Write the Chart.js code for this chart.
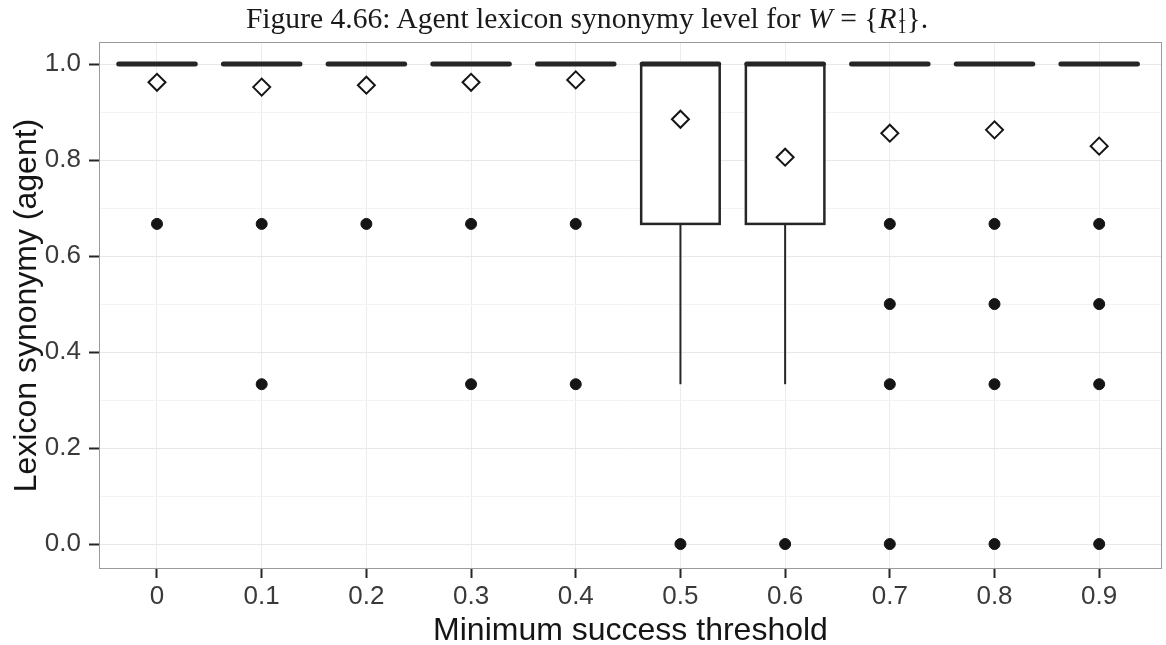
<!DOCTYPE html>
<html>
<head>
<meta charset="utf-8">
<script src="https://cdn.jsdelivr.net/npm/chart.js@4.4.1/dist/chart.umd.min.js"></script>
<style>
  html, body { margin: 0; padding: 0; background: #fff; overflow: hidden; }
  #wrap { position: relative; width: 1166px; height: 645px; }
  #title {
    position: absolute; top: 2px; left: 0; width: 1174px; text-align: center;
    font-family: "Liberation Serif", "DejaVu Serif", serif; font-size: 29.6px; color: #1a1a1a;
    white-space: nowrap; line-height: 32px;
  }
  .stack { display: inline-block; vertical-align: -5px; line-height: 12px; font-size: 18px; text-align: left; margin-left: 1px; }
  .stack span { display: block; }
</style>
</head>
<body>
<div id="wrap">
  <canvas id="chart" width="1166" height="645"></canvas>
  <div id="title">Figure 4.66: Agent lexicon synonymy level for <i>W</i> = {<i>R</i><span class="stack"><span>1</span><span>1</span></span>}.</div>
</div>
<script>
// minimum success thresholds (x categories)
const thresholds = ["0", "0.1", "0.2", "0.3", "0.4", "0.5", "0.6", "0.7", "0.8", "0.9"];

// box plot summary per threshold
const whiskerLow  = [1, 1, 1, 1, 1, 0.333, 0.333, 1, 1, 1];
const boxLow      = [1, 1, 1, 1, 1, 0.667, 0.667, 1, 1, 1];
const boxMedian   = [1, 1, 1, 1, 1, 1, 1, 1, 1, 1];
const boxHigh     = [1, 1, 1, 1, 1, 1, 1, 1, 1, 1];
const whiskerHigh = [1, 1, 1, 1, 1, 1, 1, 1, 1, 1];

// mean markers (diamonds)
const means = [0.962, 0.952, 0.956, 0.962, 0.967, 0.885, 0.806, 0.856, 0.863, 0.829];

// outliers (dots)
const outliers = [
    [0.667],
    [0.667, 0.333],
    [0.667],
    [0.667, 0.333],
    [0.667, 0.333],
    [0],
    [0],
    [0.667, 0.5, 0.333, 0],
    [0.667, 0.5, 0.333, 0],
    [0.667, 0.5, 0.333, 0]
];

const yTickValues = [0, 0.2, 0.4, 0.6, 0.8, 1.0];

const outlierPoints = [];
outliers.forEach((vals, i) => vals.forEach(v => outlierPoints.push({x: i, y: v})));
const meanPoints = means.map((m, i) => ({x: i, y: m}));

const ink = "#262626";

function isMajor(v) {
    return yTickValues.some(t => Math.abs(t - v) < 1e-6);
}

const boxPlugin = {
    id: "boxPlugin",
    beforeDatasetsDraw(chart) {
        const {ctx, chartArea, scales: {x, y}} = chart;
        const half = x.getPixelForValue(0.375) - x.getPixelForValue(0);
        ctx.save();
        // panel border
        ctx.strokeStyle = "#9a9a9a";
        ctx.lineWidth = 1;
        ctx.strokeRect(chartArea.left + 0.5, chartArea.top + 0.5,
            chartArea.right - chartArea.left - 1, chartArea.bottom - chartArea.top - 1);

        ctx.strokeStyle = ink;
        for (let i = 0; i < thresholds.length; i++) {
            const cx = x.getPixelForValue(i);
            const yLo = y.getPixelForValue(boxLow[i]);
            const yHi = y.getPixelForValue(boxHigh[i]);
            // whiskers
            ctx.lineWidth = 2;
            ctx.beginPath();
            ctx.moveTo(cx, yLo);
            ctx.lineTo(cx, y.getPixelForValue(whiskerLow[i]));
            ctx.moveTo(cx, yHi);
            ctx.lineTo(cx, y.getPixelForValue(whiskerHigh[i]));
            ctx.stroke();
            // box
            if (yLo - yHi > 1) {
                ctx.fillStyle = "#fff";
                ctx.fillRect(cx - half, yHi, half * 2, yLo - yHi);
                ctx.lineWidth = 2.5;
                ctx.strokeRect(cx - half, yHi, half * 2, yLo - yHi);
            }
            // median
            const ym = y.getPixelForValue(boxMedian[i]);
            ctx.lineWidth = 5;
            ctx.lineCap = "round";
            ctx.beginPath();
            ctx.moveTo(cx - half + 1, ym);
            ctx.lineTo(cx + half - 1, ym);
            ctx.stroke();
            ctx.lineCap = "butt";
        }
        ctx.restore();
    }
};

const ctx = document.getElementById("chart").getContext("2d");
new Chart(ctx, {
    type: "scatter",
    data: {
        datasets: [
            {
                label: "outliers",
                data: outlierPoints,
                pointStyle: "circle",
                pointRadius: 5.5,
                backgroundColor: "#151515",
                borderColor: "#151515",
                borderWidth: 1
            },
            {
                label: "mean",
                data: meanPoints,
                pointStyle: "rectRot",
                pointRadius: 8.5,
                backgroundColor: "#fff",
                borderColor: "#151515",
                borderWidth: 2
            }
        ]
    },
    options: {
        responsive: false,
        animation: false,
        events: [],
        layout: {autoPadding: false, padding: {top: 42, right: 4, left: 0, bottom: 0}},
        plugins: {legend: {display: false}, tooltip: {enabled: false}},
        scales: {
            x: {
                type: "linear",
                min: -0.554,
                max: 9.6,
                afterFit(scale) {
                    scale.height = 76;
                    scale.paddingLeft = 0;
                    scale.paddingRight = 0;
                },
                border: {display: false},
                grid: {
                    color: "#ececec",
                    lineWidth: 1,
                    tickLength: 9,
                    tickWidth: 2,
                    tickColor: ink
                },
                ticks: {
                    stepSize: 1,
                    includeBounds: false,
                    autoSkip: false,
                    maxRotation: 0,
                    padding: 3,
                    color: "#3a3a3a",
                    font: {family: "Liberation Sans", size: 26},
                    callback: (v) => thresholds[Math.round(v)] ?? ""
                },
                title: {
                    display: true,
                    text: "Minimum success threshold",
                    color: "#151515",
                    font: {family: "Liberation Sans", size: 32, lineHeight: 1},
                    padding: {top: 0, bottom: -2}
                }
            },
            y: {
                type: "linear",
                min: -0.052,
                max: 1.046,
                afterFit(scale) {
                    scale.width = 99;
                    scale.paddingTop = 0;
                    scale.paddingBottom = 0;
                },
                border: {display: false},
                grid: {
                    color: (c) => isMajor(c.tick.value) ? "#e8e8e8" : "#f3f3f3",
                    tickColor: (c) => isMajor(c.tick.value) ? ink : "rgba(0,0,0,0)",
                    lineWidth: 1,
                    tickLength: 10,
                    tickWidth: 2
                },
                ticks: {
                    stepSize: 0.1,
                    includeBounds: false,
                    autoSkip: false,
                    padding: 8,
                    color: "#3a3a3a",
                    font: {family: "Liberation Sans", size: 26},
                    callback: (v) => isMajor(v) ? v.toFixed(1) : ""
                },
                title: {
                    display: true,
                    text: "Lexicon synonymy (agent)",
                    color: "#151515",
                    font: {family: "Liberation Sans", size: 32, lineHeight: 1},
                    padding: {top: 11, bottom: 0}
                }
            }
        }
    },
    plugins: [boxPlugin]
});
</script>
</body>
</html>
